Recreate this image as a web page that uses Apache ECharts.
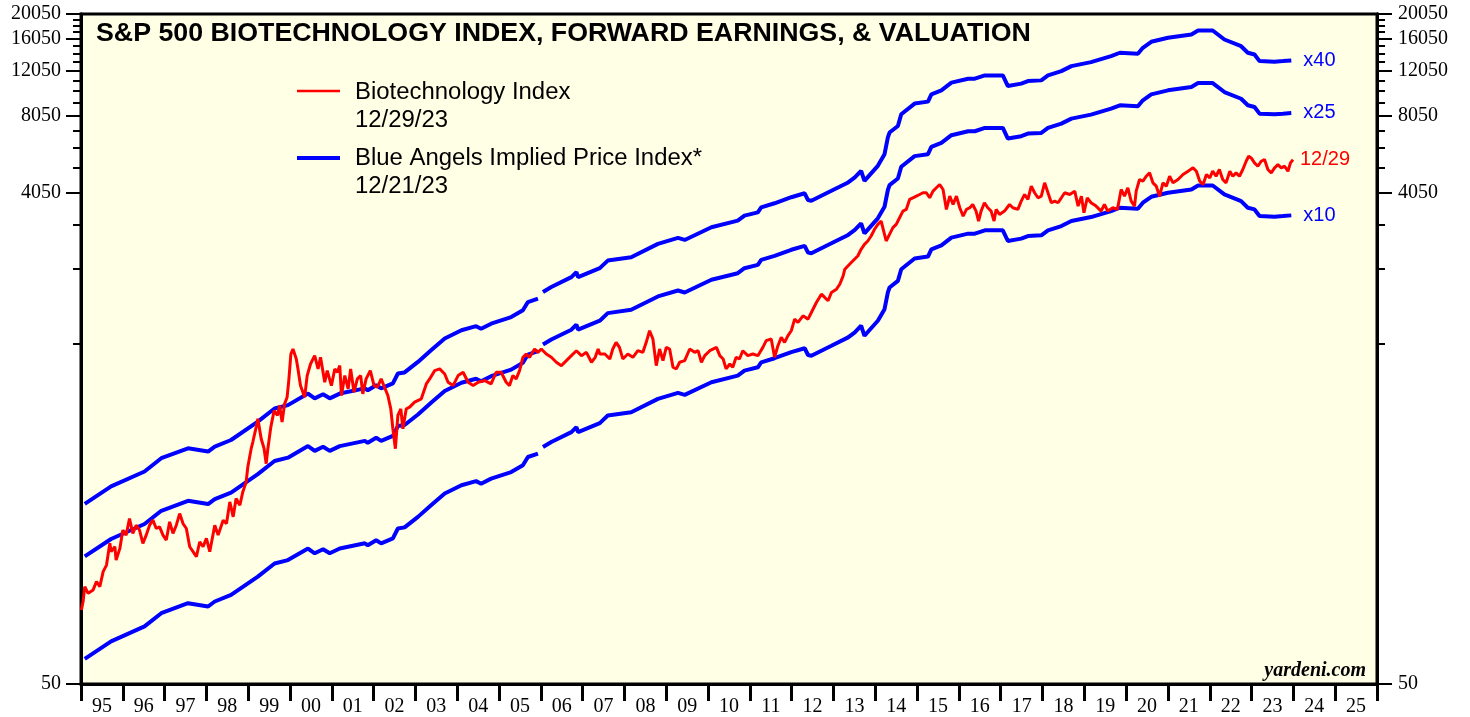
<!DOCTYPE html>
<html><head><meta charset="utf-8">
<script src="https://cdn.jsdelivr.net/npm/echarts@6/dist/echarts.min.js"></script>
<style>html,body{margin:0;padding:0;background:#fff}#c{width:1470px;height:717px}</style>
</head><body><div id="c"></div>
<script>
const titleText = 'S&P 500 BIOTECHNOLOGY INDEX, FORWARD EARNINGS, & VALUATION';
const yearTicks = [1995,1996,1997,1998,1999,2000,2001,2002,2003,2004,2005,2006,2007,2008,2009,2010,2011,2012,2013,2014,2015,2016,2017,2018,2019,2020,2021,2022,2023,2024,2025,2026];
const yearLabels = ['95','96','97','98','99','00','01','02','03','04','05','06','07','08','09','10','11','12','13','14','15','16','17','18','19','20','21','22','23','24','25'];
const yTickLabels = [50,4050,8050,12050,16050,20050];
const yMinorTicks = [50,1050,2050,3050,4050,5050,6050,7050,8050,9050,10050,11050,12050,13050,14050,15050,16050,17050,18050,19050,20050];
const multiples = [10,25,40];
const multipleLabels = ['x10','x25','x40'];

const epsDates = [1995.09,1995.72,1996.52,1996.92,1997.56,1998.04,1998.20,1998.59,1999.23,1999.63,1999.95,2000.43,2000.59,2000.79,2000.95,2001.19,2001.79,2001.86,2002.06,2002.18,2002.46,2002.58,2002.74,2003.06,2003.38,2003.70,2004.10,2004.45,2004.57,2004.81,2005.29,2005.57,2005.69,2005.93,2005.98,2006.05,2006.09,2006.25,2006.73,2006.85,2006.89,2007.41,2007.60,2008.16,2008.80,2009.28,2009.44,2010.08,2010.71,2010.87,2011.19,2011.27,2011.59,2011.99,2012.31,2012.39,2012.47,2012.95,2013.35,2013.51,2013.66,2013.74,2014.06,2014.22,2014.30,2014.34,2014.54,2014.62,2014.94,2015.26,2015.34,2015.58,2015.82,2016.22,2016.38,2016.62,2017.05,2017.17,2017.49,2017.65,2017.97,2018.13,2018.45,2018.69,2019.16,2019.64,2019.85,2020.28,2020.40,2020.60,2021.00,2021.56,2021.72,2022.07,2022.35,2022.75,2022.91,2023.07,2023.19,2023.55,2023.75,2023.95];
const forwardEps = [6.26,7.32,8.37,9.42,10.3,10.0,10.46,11.09,13.07,14.7,15.15,16.8,16.1,16.7,16.1,16.8,17.6,17.3,18.1,17.6,18.4,20.1,20.3,22.3,24.8,27.5,29.6,30.7,30.0,31.4,33.3,35.4,38.1,39.3,'-',41.7,42.3,43.6,47.6,49.8,47.6,51.6,55.2,56.9,64.1,67.6,66.4,74.4,78.9,82.5,85.0,88.9,92.2,97.3,100.8,94.9,94.3,103.1,111.1,116.2,123.3,112.7,128.9,143.0,166.1,173.6,184.1,204.4,224.9,228.9,244.3,253.1,271.2,281.0,281.0,289.4,289.4,263.1,268.8,275.1,276.8,289.4,300.7,314.5,325.9,343.8,354.4,351.2,370.5,390.9,405.1,417.2,432.4,432.4,399.0,375.8,354.4,349.0,328.9,327.1,328.9,330.9];

const bioDates = [1995.01,1995.05,1995.09,1995.17,1995.29,1995.37,1995.45,1995.53,1995.61,1995.69,1995.72,1995.81,1995.84,1995.93,1996.00,1996.08,1996.16,1996.24,1996.32,1996.40,1996.48,1996.56,1996.64,1996.72,1996.80,1996.88,1996.96,1997.04,1997.12,1997.20,1997.28,1997.36,1997.44,1997.52,1997.60,1997.68,1997.76,1997.84,1997.92,1998.00,1998.08,1998.20,1998.28,1998.40,1998.48,1998.56,1998.64,1998.71,1998.80,1998.87,1998.95,1998.99,1999.07,1999.11,1999.19,1999.23,1999.31,1999.38,1999.43,1999.47,1999.54,1999.62,1999.70,1999.75,1999.81,1999.87,1999.93,1999.97,2000.02,2000.07,2000.15,2000.19,2000.25,2000.35,2000.41,2000.49,2000.59,2000.67,2000.73,2000.83,2000.89,2000.99,2001.07,2001.13,2001.19,2001.23,2001.31,2001.39,2001.45,2001.53,2001.61,2001.69,2001.74,2001.82,2001.92,2002.01,2002.09,2002.18,2002.26,2002.34,2002.41,2002.46,2002.52,2002.58,2002.65,2002.70,2002.78,2002.86,2002.98,2003.14,2003.26,2003.34,2003.46,2003.58,2003.70,2003.78,2003.90,2004.02,2004.14,2004.26,2004.38,2004.50,2004.66,2004.81,2004.93,2005.05,2005.17,2005.25,2005.33,2005.41,2005.49,2005.57,2005.65,2005.73,2005.85,2005.93,2006.01,2006.13,2006.25,2006.37,2006.49,2006.61,2006.73,2006.85,2006.97,2007.09,2007.21,2007.30,2007.37,2007.41,2007.53,2007.65,2007.72,2007.80,2007.88,2007.96,2008.08,2008.20,2008.32,2008.44,2008.52,2008.60,2008.68,2008.76,2008.84,2008.92,2009.00,2009.08,2009.16,2009.24,2009.32,2009.44,2009.56,2009.68,2009.76,2009.84,2009.92,2010.04,2010.20,2010.28,2010.36,2010.43,2010.52,2010.59,2010.67,2010.75,2010.83,2010.95,2011.07,2011.19,2011.31,2011.39,2011.51,2011.59,2011.67,2011.75,2011.83,2011.91,2011.99,2012.07,2012.15,2012.27,2012.39,2012.47,2012.59,2012.71,2012.79,2012.87,2012.95,2013.07,2013.15,2013.23,2013.27,2013.43,2013.58,2013.66,2013.74,2013.82,2013.90,2013.98,2014.06,2014.14,2014.20,2014.26,2014.34,2014.42,2014.50,2014.58,2014.66,2014.74,2014.82,2014.90,2014.98,2015.06,2015.14,2015.22,2015.30,2015.38,2015.46,2015.54,2015.62,2015.70,2015.78,2015.86,2015.94,2016.02,2016.10,2016.18,2016.26,2016.33,2016.41,2016.47,2016.53,2016.61,2016.69,2016.77,2016.84,2016.89,2016.97,2017.09,2017.21,2017.29,2017.41,2017.49,2017.57,2017.65,2017.73,2017.81,2017.89,2017.97,2018.05,2018.13,2018.21,2018.29,2018.37,2018.45,2018.53,2018.65,2018.77,2018.85,2018.93,2018.99,2019.07,2019.16,2019.28,2019.40,2019.48,2019.56,2019.68,2019.79,2019.85,2019.88,2019.96,2020.04,2020.12,2020.20,2020.24,2020.32,2020.40,2020.48,2020.56,2020.64,2020.72,2020.80,2020.88,2020.96,2021.04,2021.12,2021.24,2021.36,2021.48,2021.60,2021.68,2021.76,2021.84,2021.92,2022.00,2022.07,2022.15,2022.23,2022.31,2022.39,2022.48,2022.55,2022.63,2022.71,2022.79,2022.87,2022.93,2022.99,2023.07,2023.15,2023.23,2023.31,2023.39,2023.47,2023.55,2023.63,2023.71,2023.79,2023.87,2023.93,2023.99];
const bioIndex = [97,104.6,119.5,112.5,116,125,119.5,136.6,144.9,176,163.3,170.7,151.5,168.2,198,189.4,219.8,192.3,207,198,176,189.4,207,216.5,201,204,189.4,181.2,213.4,192.3,207,229.7,210,201,170.7,163.3,156.1,178.5,170.7,183.9,163.3,207,189.4,216.5,210,255,223.1,262.7,247.5,278.8,304.8,348.5,410.4,435.6,497.9,536.3,448.7,410.4,358.9,410.4,497.9,577.6,552.4,603.9,520.7,612.8,650.6,754.9,957,1001,915.9,837.7,721.8,650.6,789.2,875.6,943.4,837.7,929.6,743.9,825.3,721.8,837.7,813.3,862.8,660.2,789.2,700.8,837.7,680.4,766.2,789.2,670,766.2,825.3,721.8,711.3,766.2,711.3,660.2,586.3,490.5,410.4,552.4,586.3,490.5,586.3,595.1,622.3,641,732.5,766.2,825.3,837.7,800.9,743.9,721.8,789.2,813.3,743.9,721.8,743.9,754.9,732.5,813.3,813.3,743.9,721.8,789.2,766.2,825.3,929.6,957,929.6,1001,971.8,1001,957,929.6,889.2,862.8,902.3,943.4,986.2,943.4,971.8,889.2,929.6,1001,957,957,915.9,1001,1063,1016,915.9,957,929.6,986.2,971.8,1063,1179,1095,862.8,1001,902.3,1016,1001,850.3,837.7,889.2,902.3,1001,971.8,986.2,889.2,943.4,986.2,1016,943.4,915.9,837.7,875.6,850.3,929.6,915.9,986.2,943.4,957,943.4,1016,1079,1095,929.6,1031,1111,1063,1128,1179,1308,1270,1347,1308,1388,1518,1635,1588,1541,1660,1710,1787,1925,2044,2175,2301,2443,2554,2632,2751,2920,3052,3145,2877,2632,2792,2964,3052,3240,3438,3490,3816,3873,3930,3989,4051,4051,3873,4110,4235,4360,4172,3490,3930,3648,3930,3542,3288,3490,3542,3648,3438,3145,3438,3705,3542,3438,3145,3490,3337,3438,3648,3542,3490,3760,3989,3816,4297,4051,3873,3930,4428,4051,3705,3760,3705,3873,4051,3989,4110,3595,3930,3388,3873,3705,3595,3438,3648,3438,3542,3490,3930,4172,3930,4235,3760,3595,4110,4561,4494,4697,4842,4428,4297,3930,4428,4297,4697,4428,4561,4768,4913,5062,4913,4494,4360,4768,4629,4913,4697,4987,4561,4428,4913,4697,4842,4697,4987,5371,5616,5534,5293,5137,5371,5452,4987,4842,5062,5212,5062,5137,4913,5293,5452];

const BLUE = '#0000FF', RED = '#FF0000';
const chart = echarts.init(document.getElementById('c'), null, {renderer: 'canvas'});

const blueSeries = multiples.map((m, k) => ({
  name: 'Blue Angels Implied Price Index*',
  type: 'line', xAxisIndex: 0, yAxisIndex: 0,
  showSymbol: false, connectNulls: false, silent: true,
  lineStyle: {color: BLUE, width: 4},
  data: epsDates.map((d, i) => [d, forwardEps[i] === '-' ? '-' : forwardEps[i] * m]),
  endLabel: {show: true, formatter: multipleLabels[k], color: BLUE, fontSize: 20, fontFamily: 'Liberation Sans', distance: 12}
}));

const baseY = {
  type: 'log', logBase: 10, min: 50, max: 20050,
  splitLine: {show: false}, minorTick: {show: false},
  axisLine: {show: true, lineStyle: {color: '#000', width: 3}}
};
const yFmt = v => String(Math.round(v));

chart.setOption({
  animation: false,
  backgroundColor: '#fff',
  grid: {left: 81, right: 93, top: 14, bottom: 31, show: true, backgroundColor: '#FFFFE6', borderColor: '#000', borderWidth: 3},
  xAxis: [{
    type: 'value', min: 1995, max: 2026, interval: 1,
    splitLine: {show: false},
    axisLine: {show: true, onZero: false, lineStyle: {color: '#000', width: 3}},
    axisTick: {show: true, length: 17, lineStyle: {color: '#000', width: 3}, customValues: yearTicks},
    axisLabel: {show: true, customValues: yearTicks.slice(0, -1).map(y => y + 0.5),
      formatter: v => yearLabels[Math.floor(v) - 1995], color: '#000', fontSize: 20, fontFamily: 'Liberation Serif', margin: 13}
  }],
  yAxis: [
    Object.assign({}, baseY, {position: 'left',
      axisTick: {show: true, length: 8, lineStyle: {color: '#000', width: 2}, customValues: yMinorTicks},
      axisLabel: {show: false}}),
    Object.assign({}, baseY, {position: 'left',
      axisTick: {show: true, length: 15, lineStyle: {color: '#000', width: 2}, customValues: yTickLabels},
      axisLabel: {show: true, customValues: yTickLabels, formatter: yFmt, color: '#000', fontSize: 20, fontFamily: 'Liberation Serif', margin: 20}}),
    Object.assign({}, baseY, {position: 'right',
      axisTick: {show: true, length: 8, lineStyle: {color: '#000', width: 2}, customValues: yMinorTicks},
      axisLabel: {show: false}}),
    Object.assign({}, baseY, {position: 'right',
      axisTick: {show: true, length: 15, lineStyle: {color: '#000', width: 2}, customValues: yTickLabels},
      axisLabel: {show: true, customValues: yTickLabels, formatter: yFmt, color: '#000', fontSize: 20, fontFamily: 'Liberation Serif', margin: 21}})
  ],
  series: blueSeries.concat([{
    name: 'Biotechnology Index', type: 'line', xAxisIndex: 0, yAxisIndex: 0,
    showSymbol: false, silent: true,
    lineStyle: {color: RED, width: 3},
    data: bioDates.map((d, i) => [d, bioIndex[i]]),
    endLabel: {show: true, formatter: '12/29', color: RED, fontSize: 20, fontFamily: 'Liberation Sans', distance: 7}
  }]),
  graphic: [
    {type: 'text', x: 96, y: 34, scaleX: 1.07, style: {text: titleText, font: 'bold 25px "Liberation Sans"', fill: '#000', verticalAlign: 'middle'}},
    {type: 'line', shape: {x1: 297, y1: 91, x2: 340, y2: 91}, style: {stroke: RED, lineWidth: 2.5}},
    {type: 'text', x: 355, y: 92.5, scaleX: 1.04, style: {text: 'Biotechnology Index', font: '23px "Liberation Sans"', fill: '#000', verticalAlign: 'middle'}},
    {type: 'text', x: 355, y: 121, scaleX: 1.04, style: {text: '12/29/23', font: '23px "Liberation Sans"', fill: '#000', verticalAlign: 'middle'}},
    {type: 'line', shape: {x1: 297, y1: 158, x2: 340, y2: 158}, style: {stroke: BLUE, lineWidth: 4}},
    {type: 'text', x: 355, y: 158.5, scaleX: 1.04, style: {text: 'Blue Angels Implied Price Index*', font: '23px "Liberation Sans"', fill: '#000', verticalAlign: 'middle'}},
    {type: 'text', x: 355, y: 187, scaleX: 1.04, style: {text: '12/21/23', font: '23px "Liberation Sans"', fill: '#000', verticalAlign: 'middle'}},
    {type: 'text', x: 1366, y: 671, style: {text: 'yardeni.com', font: 'italic bold 20px "Liberation Serif"', fill: '#000', align: 'right', verticalAlign: 'middle'}}
  ]
});
</script>
</body></html>
